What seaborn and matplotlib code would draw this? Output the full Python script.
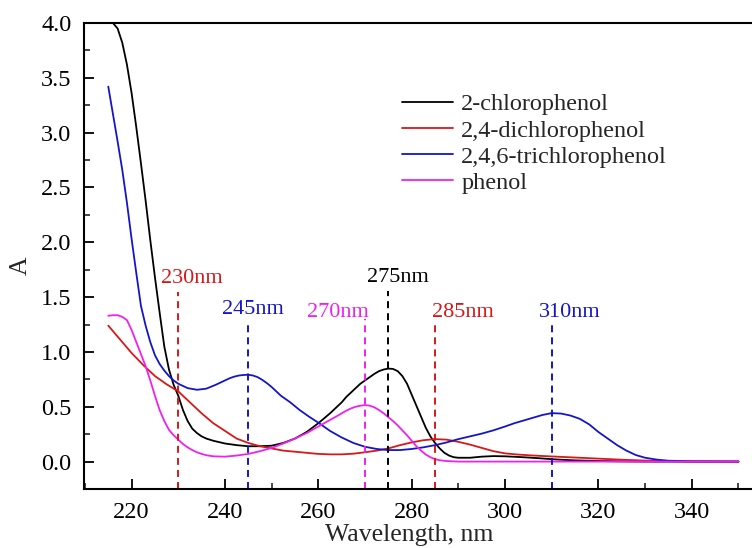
import matplotlib
matplotlib.use("Agg")
import matplotlib.pyplot as plt
from matplotlib.ticker import MultipleLocator, FormatStrFormatter
import pandas as pd
import seaborn as sns

# 2-chlorophenol
wl_2cp = [215, 216, 217, 218, 219, 220, 221, 222, 223, 224, 225, 226, 227, 228, 229,
          230, 231, 232, 233, 234, 235, 236,
          237.5, 240, 242.5, 245, 247.5, 250, 252.5, 255, 257.5, 260, 262.5, 265,
          266, 267, 268, 269, 270, 271, 272, 273, 274, 275, 276, 277, 278, 279, 280,
          281, 282, 283, 284, 285, 286, 287, 288, 289, 290,
          292.5, 295, 297.5, 300, 302.5, 305, 307.5, 310, 312.5, 315, 317.5, 320,
          325, 330, 340, 350]
a_2cp = [4.0, 4.0, 3.95, 3.82, 3.62, 3.36, 3.05, 2.72, 2.38, 2.02, 1.68, 1.36, 1.05, 0.84, 0.70,
         0.60, 0.47, 0.37, 0.30, 0.26, 0.23, 0.21,
         0.19, 0.165, 0.15, 0.14, 0.14, 0.145, 0.17, 0.21, 0.27, 0.35, 0.44, 0.54,
         0.59, 0.63, 0.67, 0.71, 0.74, 0.77, 0.80, 0.825, 0.84, 0.848, 0.845, 0.825, 0.78, 0.71, 0.61,
         0.51, 0.41, 0.31, 0.23, 0.17, 0.12, 0.08, 0.055, 0.04, 0.035,
         0.035, 0.045, 0.05, 0.048, 0.043, 0.037, 0.03, 0.022, 0.016, 0.011, 0.008, 0.005,
         0.002, 0.0, 0.0, 0.0]

# 2,4-dichlorophenol
wl_24dcp = [215, 217.5, 220, 222.5, 225, 227.5, 230, 232.5, 235, 237.5, 240, 242.5, 245,
            247.5, 250, 252.5, 255, 257.5, 260, 262.5, 265, 267.5, 270, 272.5, 275, 277.5,
            280, 282.5, 285, 287.5, 290, 292.5, 295, 297.5, 300, 302.5, 305, 307.5, 310,
            315, 320, 325, 330, 335, 340, 350]
a_24dcp = [1.24, 1.115, 0.99, 0.88, 0.78, 0.705, 0.64, 0.54, 0.44, 0.35, 0.28, 0.21, 0.17,
           0.14, 0.12, 0.10, 0.09, 0.08, 0.07, 0.066, 0.066, 0.072, 0.085, 0.10, 0.12, 0.15,
           0.175, 0.195, 0.205, 0.20, 0.18, 0.155, 0.125, 0.095, 0.075, 0.065, 0.058, 0.052, 0.047,
           0.037, 0.027, 0.017, 0.009, 0.004, 0.001, 0.0]

# 2,4,6-trichlorophenol
wl_246tcp = [215, 216, 217, 218, 219, 220, 221, 222, 223, 224, 225, 226, 227, 228, 229, 230,
             232, 234, 236, 238, 240, 241, 242, 243, 244, 245, 246, 247, 248, 249, 250,
             252, 254, 256, 258, 260, 262.5, 265, 267.5, 270, 272.5, 275, 277.5, 280,
             282.5, 285, 287.5, 290, 292.5, 295, 297.5, 300,
             302, 304, 306, 308, 310, 312, 314, 316, 318, 320, 322, 324, 326, 328, 330,
             332.5, 335, 340, 350]
a_246tcp = [3.42, 3.17, 2.92, 2.66, 2.36, 2.03, 1.72, 1.42, 1.24, 1.09, 0.97, 0.89, 0.83, 0.78, 0.74, 0.71,
            0.67, 0.655, 0.665, 0.70, 0.74, 0.76, 0.775, 0.785, 0.79, 0.792, 0.785, 0.77, 0.745, 0.715, 0.68,
            0.60, 0.54, 0.47, 0.41, 0.355, 0.28, 0.22, 0.17, 0.135, 0.115, 0.105, 0.105, 0.115,
            0.13, 0.15, 0.175, 0.205, 0.23, 0.255, 0.285, 0.32,
            0.35, 0.375, 0.40, 0.425, 0.442, 0.438, 0.42, 0.39, 0.34, 0.27, 0.21, 0.15, 0.10, 0.06, 0.035,
            0.018, 0.008, 0.002, 0.0]

# phenol
wl_phenol = [215, 216, 217, 218, 219, 220, 221, 222, 223, 224, 225, 226, 227, 228, 229,
             230, 231, 232, 233, 234, 235, 236,
             237.5, 240, 242.5, 245, 247.5, 250, 252.5, 255, 257.5, 260, 262.5,
             264, 265, 266, 267, 268, 269, 270, 271, 272, 273, 274, 275, 276, 277, 278, 279,
             280, 281, 282, 283, 284, 285, 286, 287.5, 290, 300, 320, 350]
a_phenol = [1.33, 1.335, 1.335, 1.32, 1.29, 1.20, 1.09, 0.98, 0.87, 0.74, 0.60, 0.47, 0.37, 0.29, 0.24,
            0.20, 0.16, 0.13, 0.105, 0.085, 0.07, 0.058,
            0.048, 0.045, 0.055, 0.07, 0.095, 0.125, 0.165, 0.21, 0.26, 0.32, 0.38,
            0.415, 0.44, 0.465, 0.485, 0.50, 0.51, 0.515, 0.51, 0.495, 0.47, 0.44, 0.405, 0.37, 0.33, 0.285, 0.24,
            0.19, 0.14, 0.10, 0.065, 0.04, 0.022, 0.012, 0.005, 0.0, 0.0, 0.0, 0.0]

compounds = ["2-chlorophenol", "2,4-dichlorophenol", "2,4,6-trichlorophenol", "phenol"]
wavelengths = [wl_2cp, wl_24dcp, wl_246tcp, wl_phenol]
absorbances = [a_2cp, a_24dcp, a_246tcp, a_phenol]
line_colors = ["#000000", "#d81818", "#1515c8", "#f020f0"]

# Characteristic absorption wavelengths, marked by dashed lines
peak_nm = [230, 245, 270, 275, 285, 310]
peak_colors = ["#d81818", "#1515c8", "#f020f0", "#000000", "#d81818", "#1515c8"]
peak_line_top = [1.55, 1.27, 1.30, 1.56, 1.27, 1.27]
label_xy = [(226.4, 1.67), (239.3, 1.39), (257.5, 1.36), (270.4, 1.68), (284.3, 1.36), (307.3, 1.36)]

for w, a in zip(wavelengths, absorbances):
    assert len(w) == len(a), (len(w), len(a))

df = pd.concat(
    [pd.DataFrame({"Wavelength": w, "A": a, "compound": name})
     for name, w, a in zip(compounds, wavelengths, absorbances)],
    ignore_index=True,
)

sns.set_theme(style="ticks")
plt.rcParams["font.family"] = ["Liberation Serif", "DejaVu Serif"]
TICK_FS = 17.5
LABEL_FS = 18.5
LEGEND_FS = 17.5
PEAK_FS = 16

fig = plt.figure(figsize=(7.52, 5.48), dpi=100)
ax = fig.add_axes([84 / 752, 59 / 548, 668 / 752, 466 / 548])

sns.lineplot(data=df, x="Wavelength", y="A", hue="compound", hue_order=compounds,
             palette=dict(zip(compounds, line_colors)), linewidth=1.3,
             estimator=None, sort=False, ax=ax)

ymin = -0.25
for nm, col, top, (tx, ty) in zip(peak_nm, peak_colors, peak_line_top, label_xy):
    ax.plot([nm, nm], [ymin, top], color=col, linewidth=1.4, dashes=(3.6, 2.6))
    ax.text(tx, ty, f"{nm}nm", color=col, fontsize=PEAK_FS, ha="left", va="center")

ax.set_xlim(209.8, 352.9)
ax.set_ylim(ymin, 4.0)
ax.xaxis.set_major_locator(MultipleLocator(20))
ax.xaxis.set_minor_locator(MultipleLocator(10))
ax.yaxis.set_major_locator(MultipleLocator(0.5))
ax.yaxis.set_minor_locator(MultipleLocator(0.25))
ax.yaxis.set_major_formatter(FormatStrFormatter("%.1f"))

for side in ["left", "bottom", "top"]:
    ax.spines[side].set_linewidth(1.5)
    ax.spines[side].set_color("black")
ax.spines["right"].set_visible(False)

ax.tick_params(axis="both", which="major", direction="in", length=7, width=1.3,
               labelsize=TICK_FS, colors="black")
ax.tick_params(axis="both", which="minor", direction="in", length=4, width=1.2)
ax.tick_params(axis="x", which="both", top=False, pad=9)
ax.tick_params(axis="y", which="both", right=False, pad=9)

ax.set_xlabel("Wavelength, nm", fontsize=LABEL_FS)
ax.set_ylabel("A", fontsize=LABEL_FS)
ax.xaxis.set_label_coords(0.487, -0.075)
ax.yaxis.set_label_coords(-0.078, 0.48)

handles, labels = ax.get_legend_handles_labels()
ax.legend(handles, labels, loc="upper left", bbox_to_anchor=(0.4756, 0.849),
          frameon=False, fontsize=LEGEND_FS, handlelength=2.1, handletextpad=0.35,
          labelspacing=0.17, borderpad=0, borderaxespad=0)

ax.set_facecolor("white")
fig.patch.set_facecolor("white")
fig.savefig("out.png", dpi=100)
